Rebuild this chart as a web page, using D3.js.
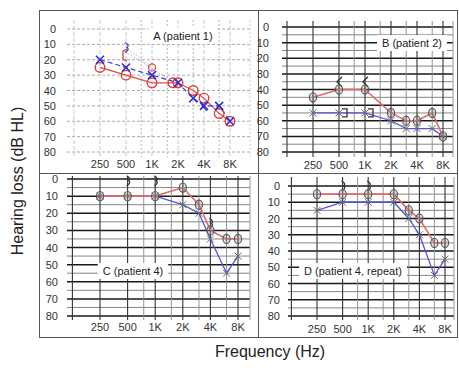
<!DOCTYPE html>
<html>
<head>
<meta charset="utf-8">
<script src="https://cdn.jsdelivr.net/npm/d3@7"></script>
<style>
  body { margin: 0; background: #fff; }
  svg { display: block; font-family: "Liberation Sans", Arial, sans-serif; }
</style>
</head>
<body>
<svg id="chart" width="459" height="373"></svg>
<script>
// ---- data ----
const freqTicks = [250, 500, 1000, 2000, 4000, 8000];
const freqTickLabels = ["250", "500", "1K", "2K", "4K", "8K"];
const dbTicks = [0, 10, 20, 30, 40, 50, 60, 70, 80];
const octaveLines = [125, 250, 500, 1000, 2000, 4000, 8000];
const halfOctaveLines = [750, 1500, 3000, 6000];

// A (patient 1)
const aRightFreq = [250, 500, 1000, 1750, 2000, 3000, 4000, 6000, 8000];
const aRightDb = [25, 30, 35, 35, 35, 40, 45, 55, 60];
const aLeftFreq = [250, 500, 1000, 2000, 3000, 4000, 6000, 8000];
const aLeftDb = [20, 25, 30, 35, 45, 50, 50, 60];

// B (patient 2)
const bFreq = [250, 500, 1000, 2000, 3000, 4000, 6000, 8000];
const bRightDb = [45, 40, 40, 55, 60, 60, 55, 70];
const bLeftDb = [55, 55, 55, 60, 65, 65, 65, 70];

// C (patient 4)
const cFreq = [250, 500, 1000, 2000, 3000, 4000, 6000, 8000];
const cRightDb = [10, 10, 10, 5, 15, 30, 35, 35];
const cLeftDb = [10, 10, 10, 15, 20, 35, 55, 45];

// D (patient 4, repeat)
const dFreq = [250, 500, 1000, 2000, 3000, 4000, 6000, 8000];
const dRightDb = [5, 5, 5, 5, 15, 20, 35, 35];
const dLeftDb = [15, 10, 10, 10, 20, 30, 55, 45];

// bone conduction / masking symbols
const aBoneFreq = [500, 500, 1000, 4000];
const aBoneDb = [17, 12, 25, 50];
const aBoneSym = ["[", ">", "o", "<"];
const bBoneFreq = [500, 1000, 500, 1000];
const bBoneDb = [35, 35, 55, 55];
const bBoneSym = ["<", "<", "]", "]"];
const cBoneFreq = [500, 1000, 4000];
const cBoneDb = [1, 1, 26];
const cBoneSym = [">", ">", ">"];
const dBoneFreq = [500, 1000];
const dBoneDb = [0, 0];
const dBoneSym = [">", ">"];

const svg = d3.select("#chart");

// panel frames
svg.append("rect").attr("x", 39.5).attr("y", 10.5).attr("width", 418).attr("height", 327)
  .attr("fill", "none").attr("stroke", "#555");
svg.append("line").attr("x1", 258.5).attr("x2", 258.5).attr("y1", 10).attr("y2", 337).attr("stroke", "#555");
svg.append("line").attr("x1", 39).attr("x2", 458).attr("y1", 173.5).attr("y2", 173.5).attr("stroke", "#555");

function drawPanel(p) {
  const g = svg.append("g");
  const x = d3.scaleLog().base(2).domain([250, 8000]).range([p.x250, p.x8k]);
  const y = d3.scaleLinear().domain([0, 80]).range([p.y0, p.y80]);
  const dark = p.style === "dark";

  // horizontal grid
  const hLines = dark ? d3.range(0, 81, 5) : dbTicks;
  g.selectAll(".h").data(hLines).enter().append("line")
    .attr("x1", p.left).attr("x2", p.right)
    .attr("y1", d => y(d)).attr("y2", d => y(d))
    .attr("stroke", d => dark ? (d % 10 === 0 ? "#1a1a1a" : "#666") : "#aaa")
    .attr("stroke-width", d => dark ? (d % 10 === 0 ? 1.5 : 0.8) : 1)
    .attr("stroke-dasharray", dark ? null : "3,2");

  // vertical grid
  g.selectAll(".v").data(octaveLines).enter().append("line")
    .attr("x1", d => x(d)).attr("x2", d => x(d))
    .attr("y1", p.top).attr("y2", p.bottom)
    .attr("stroke", dark ? "#333" : "#c8c8c8")
    .attr("stroke-width", dark ? 1.1 : 1)
    .attr("stroke-dasharray", dark ? null : "4,2");
  g.selectAll(".vh").data(halfOctaveLines).enter().append("line")
    .attr("x1", d => x(d)).attr("x2", d => x(d))
    .attr("y1", p.top).attr("y2", p.bottom)
    .attr("stroke", dark ? "#8a8a8a" : "#b5b5b5")
    .attr("stroke-width", dark ? 0.9 : 1)
    .attr("stroke-dasharray", dark ? null : "2,2");
  g.append("line").attr("x1", p.right).attr("x2", p.right)
    .attr("y1", p.top).attr("y2", p.bottom)
    .attr("stroke", dark ? "#999" : "#ccc").attr("stroke-dasharray", dark ? null : "2,2");

  // tick labels
  g.selectAll(".yl").data(dbTicks).enter().append("text")
    .attr("x", p.tickRight).attr("y", d => y(d))
    .attr("text-anchor", "end").attr("dominant-baseline", "central")
    .attr("font-size", 11).attr("fill", "#333").text(d => d);
  g.selectAll(".xl").data(freqTicks).enter().append("text")
    .attr("x", d => x(d)).attr("y", p.labelY)
    .attr("text-anchor", "middle").attr("dominant-baseline", "central")
    .attr("font-size", 11).attr("fill", "#333")
    .text((d, i) => freqTickLabels[i]);

  // title with white box
  const t = g.append("text").attr("x", p.titleX).attr("y", p.titleY)
    .attr("text-anchor", "middle").attr("dominant-baseline", "central")
    .attr("font-size", 11).attr("fill", "#222").text(p.title);
  const bb = t.node().getBBox();
  g.insert("rect", "text")
    .attr("x", bb.x - 5).attr("y", bb.y - 2).attr("width", bb.width + 10).attr("height", bb.height + 4)
    .attr("fill", "#fff");

  return { g, x, y };
}

function xMark(g, cx, cy, s, color, w) {
  g.append("path")
    .attr("d", `M${cx - s},${cy - s}L${cx + s},${cy + s}M${cx - s},${cy + s}L${cx + s},${cy - s}`)
    .attr("stroke", color).attr("stroke-width", w).attr("fill", "none");
}

function boneMarks(g, x, y, freqs, dbs, syms, color) {
  freqs.forEach((f, i) => {
    const cx = x(f), cy = y(dbs[i]), s = syms[i];
    let d;
    if (s === "<") d = `M${cx + 3},${cy - 5}L${cx - 2},${cy}L${cx + 3},${cy + 5}`;
    else if (s === ">") d = `M${cx - 1},${cy - 5}Q${cx + 4},${cy - 2} ${cx + 1},${cy}Q${cx + 4},${cy + 2} ${cx - 1},${cy + 5}`;
    else if (s === "[") d = `M${cx + 1},${cy - 6}L${cx - 3},${cy - 4}L${cx - 3},${cy + 4}L${cx + 1},${cy + 6}`;
    else if (s === "]") d = `M${cx + 3},${cy - 4}L${cx + 8},${cy - 4}L${cx + 8},${cy + 4}L${cx + 3},${cy + 4}`;
    if (s === "o") {
      g.append("circle").attr("cx", cx).attr("cy", cy).attr("r", 3.5)
        .attr("fill", "none").attr("stroke", color[i]).attr("stroke-width", 1.3);
    } else {
      g.append("path").attr("d", d).attr("fill", "none")
        .attr("stroke", color[i]).attr("stroke-width", 1.3);
    }
  });
}

// ---- Panel A ----
(function () {
  const { g, x, y } = drawPanel({
    style: "light", x250: 100, x8k: 230, y0: 29, y80: 152,
    left: 67, right: 250, top: 20, bottom: 157, labelY: 164, tickRight: 56,
    title: "A (patient 1)", titleX: 183, titleY: 36
  });
  // faint dotted bone-conduction links
  g.append("path").attr("d", d3.line()([[x(500), y(12)], [x(1000), y(25)]]))
    .attr("stroke", "#d9a0c8").attr("stroke-dasharray", "1.5,1.5").attr("fill", "none");
  g.append("path").attr("d", d3.line()([[x(500), y(15)], [x(1500), y(32)]]))
    .attr("stroke", "#b0a0d8").attr("stroke-dasharray", "1.5,1.5").attr("fill", "none");

  const line = d3.line().x(d => x(d[0])).y(d => y(d[1]));
  g.append("path").datum(aRightFreq.map((f, i) => [f, aRightDb[i]]))
    .attr("d", line).attr("fill", "none").attr("stroke", "#e04a4a").attr("stroke-width", 1.2);
  g.append("path").datum(aLeftFreq.map((f, i) => [f, aLeftDb[i]]))
    .attr("d", line).attr("fill", "none").attr("stroke", "#3a3ad0").attr("stroke-width", 1.2)
    .attr("stroke-dasharray", "5,3");
  boneMarks(g, x, y, aBoneFreq, aBoneDb, aBoneSym, ["#d04848", "#4040c8", "#e04a4a", "#3a3ad0"]);
  aRightFreq.forEach((f, i) => {
    g.append("circle").attr("cx", x(f)).attr("cy", y(aRightDb[i])).attr("r", 4.8)
      .attr("fill", "none").attr("stroke", "#e03c3c").attr("stroke-width", 1.4);
  });
  aLeftFreq.forEach((f, i) => xMark(g, x(f), y(aLeftDb[i]), 4, "#2a2ac8", 1.5));
})();

// ---- Panels B, C, D ----
function darkPanel(cfg, freqs, right, left, bf, bd, bs) {
  const { g, x, y } = drawPanel(cfg);
  const line = d3.line().x(d => x(d[0])).y(d => y(d[1]));
  g.append("path").datum(freqs.map((f, i) => [f, left[i]]))
    .attr("d", line).attr("fill", "none").attr("stroke", "#5555d4").attr("stroke-width", 1.3);
  g.append("path").datum(freqs.map((f, i) => [f, right[i]]))
    .attr("d", line).attr("fill", "none").attr("stroke", "#e26a6a").attr("stroke-width", 1.6);
  boneMarks(g, x, y, bf, bd, bs, bf.map(() => "#333"));
  freqs.forEach((f, i) => xMark(g, x(f), y(left[i]), 3.5, "#6a6a6a", 1));
  freqs.forEach((f, i) => {
    const cx = x(f), cy = y(right[i]);
    g.append("ellipse").attr("cx", cx).attr("cy", cy).attr("rx", 3.6).attr("ry", 4.6)
      .attr("fill", "rgba(160,160,160,0.35)").attr("stroke", "#555").attr("stroke-width", 1.1);
    g.append("line").attr("x1", cx).attr("x2", cx).attr("y1", cy - 5.5).attr("y2", cy + 5.5)
      .attr("stroke", "#666").attr("stroke-width", 0.8);
  });
}

darkPanel({
  style: "dark", x250: 313, x8k: 443, y0: 27, y80: 152,
  left: 282, right: 453, top: 21, bottom: 157, labelY: 165, tickRight: 269,
  title: "B (patient 2)", titleX: 412, titleY: 43
}, bFreq, bRightDb, bLeftDb, bBoneFreq, bBoneDb, bBoneSym);

darkPanel({
  style: "dark", x250: 100, x8k: 238, y0: 179, y80: 316,
  left: 67, right: 250, top: 176, bottom: 320, labelY: 327, tickRight: 58,
  title: "C (patient 4)", titleX: 133, titleY: 271
}, cFreq, cRightDb, cLeftDb, cBoneFreq, cBoneDb, cBoneSym);

darkPanel({
  style: "dark", x250: 317, x8k: 445, y0: 186, y80: 316,
  left: 288, right: 454, top: 177, bottom: 320, labelY: 329, tickRight: 280,
  title: "D (patient 4, repeat)", titleX: 353, titleY: 271
}, dFreq, dRightDb, dLeftDb, dBoneFreq, dBoneDb, dBoneSym);

// axis titles
svg.append("text")
  .attr("transform", "translate(17,181) rotate(-90)")
  .attr("text-anchor", "middle").attr("dominant-baseline", "central")
  .attr("font-size", 16).attr("fill", "#222").text("Hearing loss (dB HL)");
svg.append("text")
  .attr("x", 270).attr("y", 351)
  .attr("text-anchor", "middle").attr("dominant-baseline", "central")
  .attr("font-size", 16).attr("fill", "#222").text("Frequency (Hz)");
</script>
</body>
</html>
